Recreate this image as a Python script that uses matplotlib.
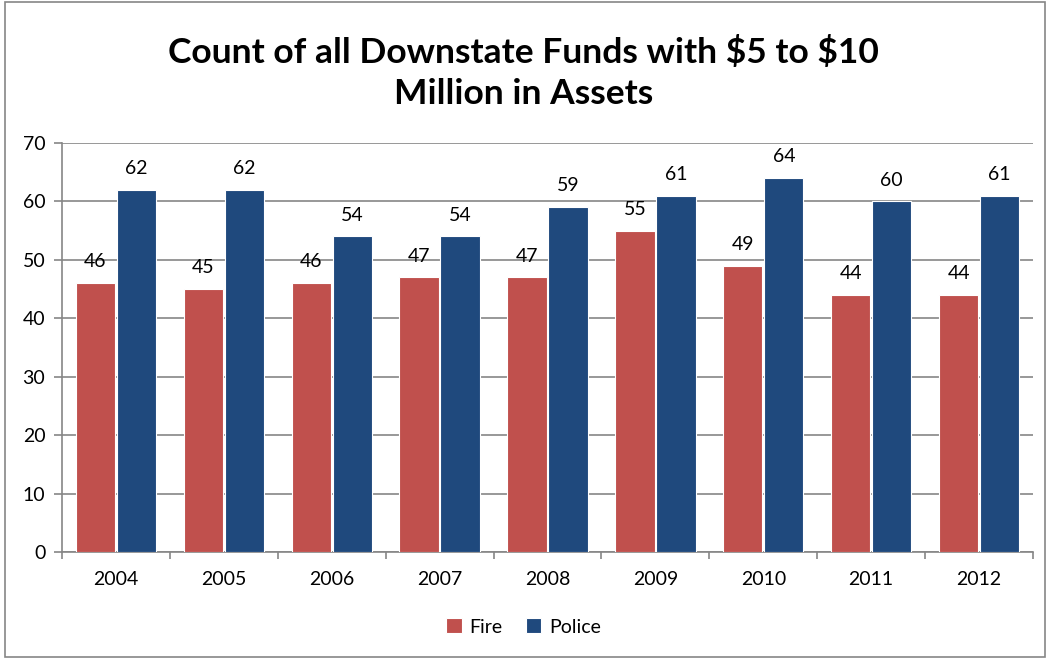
import matplotlib
matplotlib.use('Agg')
import matplotlib.pyplot as plt
import numpy as np
from matplotlib.patches import Rectangle

plt.rcParams['font.family'] = ['Lato', 'DejaVu Sans']

years = ['2004', '2005', '2006', '2007', '2008', '2009', '2010', '2011', '2012']
fire = [46, 45, 46, 47, 47, 55, 49, 44, 44]
police = [62, 62, 54, 54, 59, 61, 64, 60, 61]

fireColor = '#C0504D'
policeColor = '#1F497D'
gridColor = '#868686'

fig = plt.figure(figsize=(10.47, 6.58), dpi=100)
ax = fig.add_axes([62/1047, 1-552/658, (1033-62)/1047, (552-143)/658])

x = np.arange(len(years))
width = 0.365
off = 0.19
b1 = ax.bar(x - off, fire, width, color=fireColor, edgecolor='white', linewidth=0.8, label='Fire', zorder=3)
b2 = ax.bar(x + off, police, width, color=policeColor, edgecolor='white', linewidth=0.8, label='Police', zorder=3)

for bars in (b1, b2):
  for b in bars:
    ax.text(b.get_x() + b.get_width()/2, b.get_height() + 2.2, '{:d}'.format(int(b.get_height())),
            ha='center', va='bottom', fontsize=14, color='black')

ax.set_xlim(-0.5, len(years) - 0.5)
ax.set_ylim(0, 70)
ax.set_yticks(range(0, 71, 10))
ax.yaxis.grid(True, color=gridColor, linewidth=1.2, zorder=0)
ax.set_axisbelow(True)

# categories are labelled in the middle, tick marks sit on the boundaries
ax.set_xticks(x)
ax.set_xticklabels(years)
ax.set_xticks(np.arange(-0.5, len(years)), minor=True)
ax.tick_params(axis='x', which='major', length=0, pad=14, labelsize=14)
ax.tick_params(axis='x', which='minor', length=5, color=gridColor, width=1.2, direction='out')
ax.tick_params(axis='y', length=6, color=gridColor, width=1.2, pad=6, labelsize=14)

for s in ('top', 'right'):
  ax.spines[s].set_visible(False)
for s in ('left', 'bottom'):
  ax.spines[s].set_color(gridColor)
  ax.spines[s].set_linewidth(1.2)

fig.text(0.5, 1-73/658, 'Count of all Downstate Funds with \\$5 to \\$10\nMillion in Assets',
         ha='center', va='center', fontsize=25.5, fontweight='bold', linespacing=1.32)

fig.legend(handles=[b1, b2], labels=['Fire', 'Police'], loc='center', bbox_to_anchor=(0.5, 1-627/658),
           ncol=2, frameon=False, fontsize=14, handlelength=0.8, handleheight=0.8,
           handletextpad=0.4, columnspacing=1.2)

fig.patches.append(Rectangle((5/1047, 0.002), 1040/1047, 0.995, transform=fig.transFigure,
                             fill=False, edgecolor=gridColor, linewidth=1.2))

plt.savefig('out.png', dpi=100)
